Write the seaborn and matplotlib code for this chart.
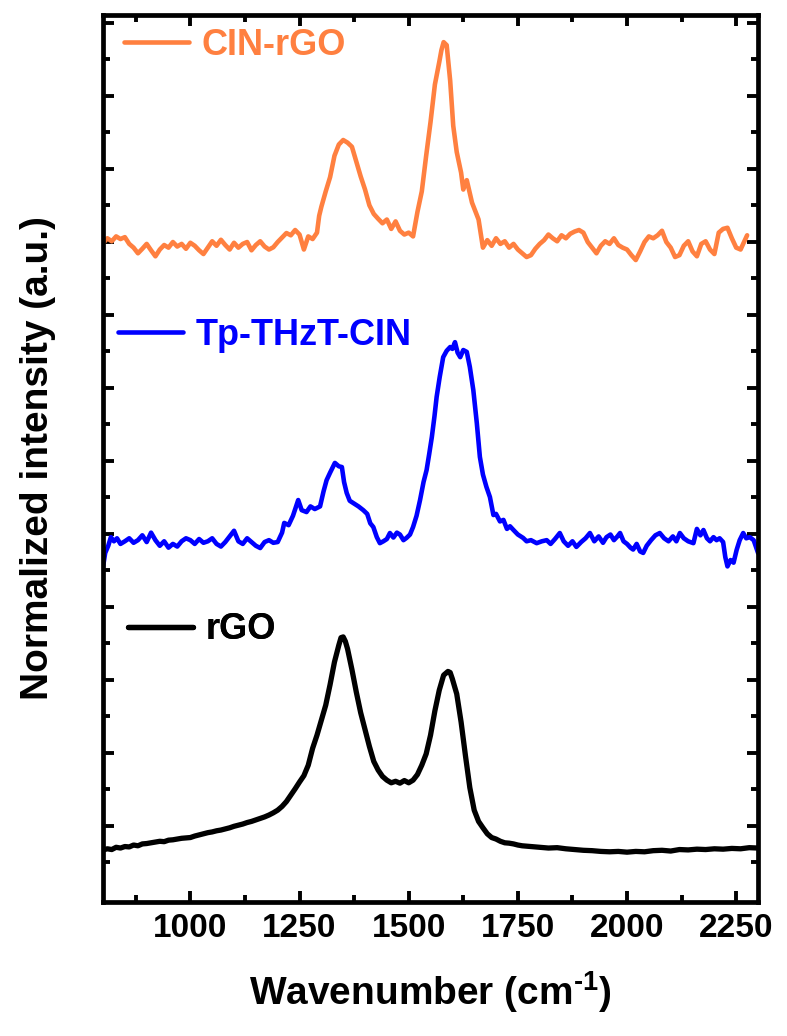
import numpy as np
import pandas as pd
import matplotlib
matplotlib.use("Agg")
import matplotlib.pyplot as plt
from matplotlib import font_manager as fm
from matplotlib.lines import Line2D
import seaborn as sns

# ---------------- data (wavenumber in cm^-1, intensity in a.u. incl. stacking offset) -------------
cin_x = [800, 810, 820, 830, 840, 850, 860, 870, 880, 890, 900, 910, 920, 930, 940, 950, 960, 970,
         980, 990, 1000, 1010, 1020, 1030, 1040, 1050, 1060, 1070, 1080, 1090, 1100, 1110, 1120,
         1130, 1140, 1150, 1160, 1170, 1180, 1190, 1200, 1210, 1220, 1230, 1240, 1250, 1260, 1270,
         1280, 1290, 1295, 1300, 1310, 1320, 1330, 1340, 1350, 1360, 1370, 1380, 1390, 1400, 1410,
         1420, 1430, 1440, 1450, 1460, 1470, 1480, 1490, 1500, 1510, 1520, 1530, 1540, 1550, 1560,
         1570, 1575, 1580, 1587, 1595, 1602, 1610, 1620, 1625, 1633, 1645, 1660, 1670, 1680, 1690,
         1700, 1710, 1720, 1730, 1740, 1750, 1760, 1770, 1780, 1790, 1800, 1810, 1820, 1830, 1840,
         1850, 1860, 1870, 1880, 1890, 1900, 1910, 1920, 1930, 1940, 1950, 1960, 1970, 1980, 1990,
         2000, 2010, 2020, 2030, 2040, 2050, 2060, 2070, 2080, 2090, 2100, 2110, 2120, 2130, 2140,
         2150, 2160, 2170, 2180, 2190, 2200, 2210, 2220, 2230, 2240, 2250, 2260, 2270, 2275]
cin_y = [17.57, 17.70, 17.62, 17.75, 17.68, 17.73, 17.55, 17.45, 17.30, 17.42, 17.55, 17.38, 17.22,
         17.40, 17.52, 17.45, 17.60, 17.48, 17.55, 17.42, 17.58, 17.50, 17.38, 17.28, 17.45, 17.62,
         17.50, 17.66, 17.52, 17.40, 17.58, 17.45, 17.55, 17.60, 17.38, 17.52, 17.62, 17.48, 17.40,
         17.46, 17.60, 17.72, 17.84, 17.78, 17.92, 17.80, 17.40, 17.75, 17.68, 17.85, 18.30, 18.54,
         18.95, 19.33, 19.90, 20.20, 20.32, 20.25, 20.14, 19.75, 19.35, 19.00, 18.58, 18.35, 18.22,
         18.10, 18.20, 17.95, 18.15, 17.90, 17.80, 17.85, 17.75, 18.40, 18.95, 19.90, 20.80, 21.80,
         22.40, 22.72, 22.93, 22.85, 21.90, 20.70, 20.00, 19.45, 19.00, 19.25, 18.65, 18.20, 17.45,
         17.65, 17.50, 17.70, 17.55, 17.62, 17.45, 17.55, 17.40, 17.30, 17.20, 17.25, 17.42, 17.55,
         17.65, 17.80, 17.70, 17.62, 17.78, 17.70, 17.82, 17.88, 17.92, 17.85, 17.60, 17.45, 17.30,
         17.50, 17.62, 17.55, 17.70, 17.52, 17.45, 17.40, 17.25, 17.12, 17.35, 17.60, 17.75, 17.70,
         17.78, 17.90, 17.60, 17.45, 17.20, 17.25, 17.50, 17.62, 17.35, 17.22, 17.55, 17.62, 17.40,
         17.28, 17.85, 17.95, 17.98, 17.70, 17.45, 17.40, 17.65, 17.78]

tp_x = [800, 805, 812, 818, 825, 832, 840, 850, 860, 870, 880, 890, 900, 910, 920, 930, 940, 950,
        960, 970, 980, 990, 1000, 1010, 1020, 1030, 1040, 1050, 1060, 1070, 1080, 1090, 1100, 1110,
        1120, 1130, 1140, 1150, 1160, 1170, 1180, 1190, 1200, 1210, 1215, 1225, 1235, 1247, 1255,
        1266, 1275, 1285, 1297, 1305, 1312, 1320, 1331, 1340, 1347, 1352, 1358, 1365, 1373, 1385,
        1396, 1405, 1412, 1419, 1427, 1434, 1442, 1450, 1457, 1465, 1473, 1480, 1488, 1495, 1503,
        1510, 1518, 1526, 1534, 1541, 1547, 1553, 1559, 1564, 1571, 1579, 1587, 1595, 1600, 1606,
        1612, 1618, 1625, 1633, 1640, 1648, 1656, 1663, 1670, 1678, 1686, 1694, 1700, 1709, 1717,
        1725, 1732, 1740, 1750, 1762, 1770, 1780, 1793, 1805, 1816, 1825, 1835, 1846, 1855, 1865,
        1875, 1884, 1895, 1905, 1915, 1925, 1935, 1945, 1953, 1962, 1970, 1978, 1984, 1992, 2000,
        2008, 2014, 2022, 2030, 2037, 2045, 2055, 2065, 2075, 2085, 2095, 2105, 2113, 2121, 2130,
        2140, 2152, 2160, 2168, 2175, 2183, 2190, 2198, 2205, 2212, 2220, 2225, 2230, 2237, 2244,
        2251, 2258, 2266, 2273, 2281, 2290, 2296, 2300]
tp_y = [8.94, 9.31, 9.50, 9.73, 9.62, 9.70, 9.55, 9.62, 9.70, 9.58, 9.65, 9.78, 9.60, 9.85, 9.65,
        9.50, 9.62, 9.45, 9.55, 9.48, 9.62, 9.70, 9.65, 9.55, 9.68, 9.58, 9.62, 9.70, 9.55, 9.48,
        9.60, 9.75, 9.90, 9.62, 9.55, 9.70, 9.60, 9.50, 9.44, 9.60, 9.65, 9.58, 9.60, 9.85, 10.11,
        10.05, 10.30, 10.72, 10.45, 10.40, 10.55, 10.48, 10.55, 10.95, 11.25, 11.45, 11.71, 11.62,
        11.60, 11.20, 10.91, 10.70, 10.64, 10.55, 10.45, 10.35, 10.10, 10.00, 9.73, 9.57, 9.62,
        9.68, 9.84, 9.72, 9.85, 9.80, 9.65, 9.71, 9.80, 10.00, 10.30, 10.72, 11.20, 11.52, 11.95,
        12.40, 12.95, 13.47, 14.00, 14.53, 14.70, 14.80, 14.75, 14.93, 14.65, 14.53, 14.72, 14.67,
        14.27, 13.65, 12.77, 11.87, 11.40, 11.07, 10.80, 10.32, 10.35, 10.15, 10.19, 9.95, 10.02,
        9.92, 9.80, 9.71, 9.62, 9.65, 9.57, 9.62, 9.65, 9.55, 9.68, 9.84, 9.62, 9.50, 9.62, 9.47,
        9.60, 9.70, 9.84, 9.62, 9.75, 9.58, 9.73, 9.80, 9.65, 9.75, 9.84, 9.62, 9.55, 9.45, 9.40,
        9.55, 9.35, 9.31, 9.50, 9.65, 9.78, 9.84, 9.70, 9.62, 9.75, 9.62, 9.84, 9.70, 9.62, 9.57,
        9.95, 9.78, 9.92, 9.70, 9.62, 9.73, 9.65, 9.70, 9.60, 9.20, 8.95, 9.12, 9.05, 9.39, 9.65,
        9.84, 9.70, 9.73, 9.65, 9.45, 9.31]

rgo_x = [800, 810, 820, 830, 840, 850, 860, 870, 880, 890, 900, 910, 920, 930, 940, 950, 960, 970,
         980, 990, 1000, 1010, 1020, 1030, 1040, 1050, 1060, 1070, 1080, 1090, 1100, 1110, 1120,
         1130, 1140, 1150, 1160, 1170, 1180, 1190, 1200, 1210, 1220, 1230, 1240, 1250, 1260, 1270,
         1280, 1290, 1300, 1310, 1320, 1330, 1340, 1345, 1350, 1355, 1360, 1370, 1380, 1390, 1400,
         1410, 1420, 1430, 1440, 1450, 1460, 1470, 1480, 1490, 1500, 1510, 1520, 1530, 1540, 1550,
         1560, 1570, 1580, 1590, 1595, 1600, 1610, 1620, 1630, 1640, 1650, 1660, 1670, 1680, 1690,
         1700, 1710, 1720, 1730, 1740, 1750, 1760, 1780, 1800, 1820, 1840, 1860, 1880, 1900, 1920,
         1940, 1960, 1980, 2000, 2020, 2040, 2060, 2080, 2100, 2120, 2140, 2160, 2180, 2200, 2220,
         2240, 2260, 2280, 2300]
rgo_y = [1.39, 1.42, 1.40, 1.46, 1.44, 1.48, 1.47, 1.52, 1.50, 1.55, 1.56, 1.58, 1.60, 1.62, 1.61,
         1.65, 1.66, 1.68, 1.70, 1.71, 1.72, 1.76, 1.79, 1.82, 1.85, 1.87, 1.90, 1.92, 1.95, 1.98,
         2.02, 2.05, 2.08, 2.12, 2.15, 2.19, 2.23, 2.27, 2.32, 2.38, 2.45, 2.55, 2.68, 2.85, 3.02,
         3.20, 3.37, 3.65, 4.10, 4.45, 4.85, 5.25, 5.80, 6.40, 6.85, 7.05, 7.07, 6.95, 6.75, 6.20,
         5.60, 5.05, 4.60, 4.15, 3.75, 3.52, 3.35, 3.25, 3.18, 3.22, 3.17, 3.24, 3.18, 3.25, 3.40,
         3.65, 3.95, 4.45, 5.10, 5.65, 6.05, 6.15, 6.12, 5.95, 5.55, 4.80, 3.90, 3.05, 2.45, 2.15,
         1.98, 1.82, 1.72, 1.68, 1.62, 1.58, 1.57, 1.55, 1.52, 1.50, 1.48, 1.46, 1.44, 1.45, 1.42,
         1.40, 1.38, 1.37, 1.35, 1.34, 1.35, 1.33, 1.35, 1.34, 1.37, 1.38, 1.36, 1.40, 1.39, 1.41,
         1.40, 1.42, 1.41, 1.43, 1.42, 1.45, 1.44]

series_names = ["CIN-rGO", "Tp-THzT-CIN", "rGO"]
series_colors = ["#FF8040", "#0000FF", "#000000"]
series_lw = [3.3, 3.3, 3.8]
x_ticks_major = [1000, 1250, 1500, 1750, 2000, 2250]

# ---------------- styling ----------------
sns.set_theme(style="ticks")
FONT = "Liberation Sans"
plt.rcParams["font.family"] = [FONT, "DejaVu Sans"]
plt.rcParams["font.weight"] = "bold"
plt.rcParams["text.color"] = "black"
plt.rcParams["axes.labelcolor"] = "black"
plt.rcParams["xtick.color"] = "black"
plt.rcParams["ytick.color"] = "black"
plt.rcParams["mathtext.fontset"] = "custom"
plt.rcParams["mathtext.rm"] = FONT + ":bold"
plt.rcParams["mathtext.bf"] = FONT + ":bold"
plt.rcParams["mathtext.default"] = "bf"

fs_tick, fs_xlabel, fs_ylabel, fs_leg = 24, 28, 28, 26

fig = plt.figure(figsize=(7.87, 10.36), dpi=100)
ax = fig.add_axes([0.1309, 0.1293, 0.8323, 0.8562])

frames = [
    pd.DataFrame({"w": cin_x, "I": cin_y}),
    pd.DataFrame({"w": tp_x, "I": tp_y}),
    pd.DataFrame({"w": rgo_x, "I": rgo_y}),
]
for df, name, col, lw in zip(frames, series_names, series_colors, series_lw):
    sns.lineplot(data=df, x="w", y="I", ax=ax, color=col, lw=lw, estimator=None,
                 legend=False, solid_joinstyle="round")

ax.set_xlim(800, 2300)
ax.set_ylim(0, 887 / 37.5)

ax.set_xticks(x_ticks_major)
ax.set_xticks(np.arange(875, 2300, 250), minor=True)
tick_step = 36.5 / 37.5
yt = 40 / 37.5 + tick_step * np.arange(24)
ax.set_yticks(yt[1::2])
ax.set_yticks(yt[0::2], minor=True)
ax.set_yticklabels([])

for s in ax.spines.values():
    s.set_linewidth(3.4)
    s.set_color("black")
ax.tick_params(which="both", direction="in", top=True, right=True, color="black",
               width=2.8)
ax.tick_params(which="major", length=8, labelsize=fs_tick, pad=8, labelcolor="black")
ax.tick_params(which="minor", length=5)
for lab in ax.get_xticklabels():
    lab.set_fontweight("bold")

ax.set_xlabel(r"Wavenumber (cm$^{\text{-1}}$)", fontsize=fs_xlabel, fontweight="bold",
              labelpad=18, color="black")
ax.set_ylabel("Normalized intensity (a.u.)", fontsize=fs_ylabel, fontweight="bold",
              labelpad=26, color="black")

# per-series legends placed next to each curve
leg_anchor = [(0.032, 0.966), (0.023, 0.639), (0.038, 0.307)]
for name, col, anc, lw in zip(series_names, series_colors, leg_anchor, series_lw):
    h = Line2D([], [], color=col, lw=lw)
    leg = ax.legend([h], [name], loc="center left", bbox_to_anchor=anc, frameon=False,
                    borderpad=0, borderaxespad=0, handlelength=1.8, handletextpad=0.35,
                    prop={"family": [FONT, "DejaVu Sans"], "weight": "bold", "size": fs_leg})
    for t in leg.get_texts():
        t.set_color(col)
    ax.add_artist(leg)

fig.savefig("out.png", dpi=100)
